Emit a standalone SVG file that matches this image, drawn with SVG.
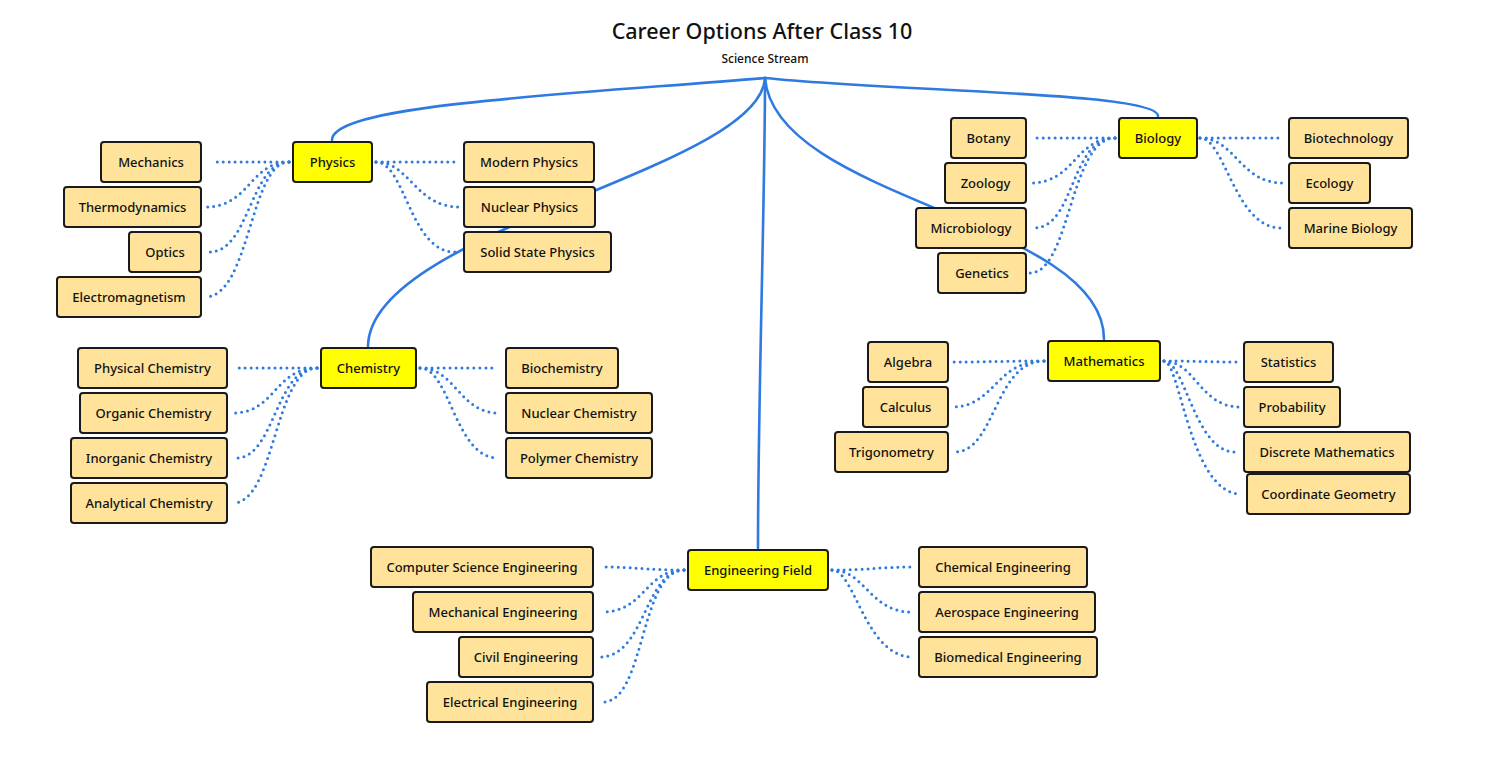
<svg xmlns="http://www.w3.org/2000/svg" width="1509" height="766" viewBox="0 0 1509 766">
<style>
.n rect{fill:#ffe39b;stroke:#1a1a1a;stroke-width:2}
.m rect{fill:#ffff00;stroke:#1a1a1a;stroke-width:2}
text{font-family:"Noto Sans",Lato,sans-serif;font-size:13px;font-weight:500;fill:#111;text-anchor:middle;dominant-baseline:central}
.main path{fill:none;stroke:#2f7ae0;stroke-width:2.6;stroke-linecap:round}
.dot path{fill:none;stroke:#2f7ae0;stroke-width:3;stroke-dasharray:0 6;stroke-linecap:round}
</style>
<rect width="1509" height="766" fill="#ffffff"/>
<text x="762" y="30" style="font-size:21.5px">Career Options After Class 10</text>
<text x="765" y="58" style="font-size:12px">Science Stream</text>
<g id="connectors">
<g class="main">
<path d="M765,78 C560,95 332,105 332,140"/>
<path d="M765,78 C900,92 1158,92 1158,116"/>
<path d="M765,78 C760,170 370,230 368,346"/>
<path d="M765,78 C765,200 758,400 758,548"/>
<path d="M765,78 C775,200 1104,220 1104,339"/>
</g>
<g class="dot">
<path d="M289,162 C255,162 250,162 213,162"/>
<path d="M289,162 C250,162 250,207 205,207"/>
<path d="M289,162 C250,162 250,252 209,252"/>
<path d="M289,162 C250,162 250,297 205,297"/>
<path d="M376,162 C410,162 420,162 456,162"/>
<path d="M376,162 C410,162 415,207 460,207"/>
<path d="M376,162 C405,162 410,252 455,252"/>
<path d="M317,368 C280,368 270,368 233,368"/>
<path d="M317,368 C275,368 275,413 233,413"/>
<path d="M317,368 C275,368 275,458 236,458"/>
<path d="M317,368 C275,368 275,503 233,503"/>
<path d="M420,368 C455,368 465,368 498,368"/>
<path d="M420,368 C455,368 460,413 498,413"/>
<path d="M420,368 C450,368 455,458 498,458"/>
<path d="M1115,138 C1080,138 1070,138 1036,138"/>
<path d="M1115,138 C1075,138 1075,183 1030,183"/>
<path d="M1115,138 C1070,138 1075,228 1034,228"/>
<path d="M1115,138 C1070,138 1070,273 1030,273"/>
<path d="M1200,138 C1240,138 1250,138 1280,138"/>
<path d="M1200,138 C1235,138 1240,183 1283,183"/>
<path d="M1200,138 C1225,138 1235,228 1281,228"/>
<path d="M1044,361 C1000,361 990,362 952,362"/>
<path d="M1044,361 C995,361 995,407 952,407"/>
<path d="M1044,361 C995,361 995,452 955,452"/>
<path d="M1164,361 C1200,361 1210,362 1237,362"/>
<path d="M1164,361 C1195,361 1200,407 1240,407"/>
<path d="M1164,361 C1185,361 1195,452 1235,452"/>
<path d="M1164,361 C1180,361 1190,494 1241,494"/>
<path d="M684,570 C640,570 640,567 602,567"/>
<path d="M684,570 C645,570 645,612 602,612"/>
<path d="M684,570 C645,570 645,657 600,657"/>
<path d="M684,570 C640,570 645,702 603,702"/>
<path d="M832,570 C870,570 880,567 911,567"/>
<path d="M832,570 C865,570 870,612 911,612"/>
<path d="M832,570 C855,570 865,657 913,657"/>
</g>
</g>
<g id="physics" class="m"><rect x="293" y="142" width="79" height="40" rx="3"/><text x="332.5" y="162">Physics</text></g>
<g id="mechanics" class="n"><rect x="101" y="142" width="100" height="40" rx="3"/><text x="151" y="162">Mechanics</text></g>
<g id="thermodynamics" class="n"><rect x="64" y="187" width="137" height="40" rx="3"/><text x="132.5" y="207">Thermodynamics</text></g>
<g id="optics" class="n"><rect x="129" y="232" width="72" height="40" rx="3"/><text x="165" y="252">Optics</text></g>
<g id="electromagnetism" class="n"><rect x="57" y="277" width="144" height="40" rx="3"/><text x="129" y="297">Electromagnetism</text></g>
<g id="modern-physics" class="n"><rect x="464" y="142" width="130" height="40" rx="3"/><text x="529" y="162">Modern Physics</text></g>
<g id="nuclear-physics" class="n"><rect x="464" y="187" width="131" height="40" rx="3"/><text x="529.5" y="207">Nuclear Physics</text></g>
<g id="solid-state-physics" class="n"><rect x="464" y="232" width="147" height="40" rx="3"/><text x="537.5" y="252">Solid State Physics</text></g>
<g id="chemistry" class="m"><rect x="321" y="348" width="95" height="40" rx="3"/><text x="368.5" y="368">Chemistry</text></g>
<g id="physical-chemistry" class="n"><rect x="78" y="348" width="149" height="40" rx="3"/><text x="152.5" y="368">Physical Chemistry</text></g>
<g id="organic-chemistry" class="n"><rect x="80" y="393" width="147" height="40" rx="3"/><text x="153.5" y="413">Organic Chemistry</text></g>
<g id="inorganic-chemistry" class="n"><rect x="71" y="438" width="156" height="40" rx="3"/><text x="149" y="458">Inorganic Chemistry</text></g>
<g id="analytical-chemistry" class="n"><rect x="71" y="483" width="156" height="40" rx="3"/><text x="149" y="503">Analytical Chemistry</text></g>
<g id="biochemistry" class="n"><rect x="506" y="348" width="112" height="40" rx="3"/><text x="562" y="368">Biochemistry</text></g>
<g id="nuclear-chemistry" class="n"><rect x="506" y="393" width="146" height="40" rx="3"/><text x="579" y="413">Nuclear Chemistry</text></g>
<g id="polymer-chemistry" class="n"><rect x="506" y="438" width="146" height="40" rx="3"/><text x="579" y="458">Polymer Chemistry</text></g>
<g id="biology" class="m"><rect x="1119" y="118" width="78" height="40" rx="3"/><text x="1158" y="138">Biology</text></g>
<g id="botany" class="n"><rect x="951" y="118" width="75" height="40" rx="3"/><text x="988.5" y="138">Botany</text></g>
<g id="zoology" class="n"><rect x="945" y="163" width="81" height="40" rx="3"/><text x="985.5" y="183">Zoology</text></g>
<g id="microbiology" class="n"><rect x="916" y="208" width="110" height="40" rx="3"/><text x="971" y="228">Microbiology</text></g>
<g id="genetics" class="n"><rect x="938" y="253" width="88" height="40" rx="3"/><text x="982" y="273">Genetics</text></g>
<g id="biotechnology" class="n"><rect x="1289" y="118" width="119" height="40" rx="3"/><text x="1348.5" y="138">Biotechnology</text></g>
<g id="ecology" class="n"><rect x="1289" y="163" width="81" height="40" rx="3"/><text x="1329.5" y="183">Ecology</text></g>
<g id="marine-biology" class="n"><rect x="1289" y="208" width="123" height="40" rx="3"/><text x="1350.5" y="228">Marine Biology</text></g>
<g id="mathematics" class="m"><rect x="1048" y="341" width="112" height="40" rx="3"/><text x="1104" y="361">Mathematics</text></g>
<g id="algebra" class="n"><rect x="868" y="342" width="80" height="40" rx="3"/><text x="908" y="362">Algebra</text></g>
<g id="calculus" class="n"><rect x="863" y="387" width="85" height="40" rx="3"/><text x="905.5" y="407">Calculus</text></g>
<g id="trigonometry" class="n"><rect x="835" y="432" width="113" height="40" rx="3"/><text x="891.5" y="452">Trigonometry</text></g>
<g id="statistics" class="n"><rect x="1244" y="342" width="89" height="40" rx="3"/><text x="1288.5" y="362">Statistics</text></g>
<g id="probability" class="n"><rect x="1244" y="387" width="96" height="40" rx="3"/><text x="1292" y="407">Probability</text></g>
<g id="discrete-mathematics" class="n"><rect x="1244" y="432" width="166" height="40" rx="3"/><text x="1327" y="452">Discrete Mathematics</text></g>
<g id="coordinate-geometry" class="n"><rect x="1247" y="474" width="163" height="40" rx="3"/><text x="1328.5" y="494">Coordinate Geometry</text></g>
<g id="engineering-field" class="m"><rect x="688" y="550" width="140" height="40" rx="3"/><text x="758" y="570">Engineering Field</text></g>
<g id="computer-science-engineering" class="n"><rect x="371" y="547" width="222" height="40" rx="3"/><text x="482" y="567">Computer Science Engineering</text></g>
<g id="mechanical-engineering" class="n"><rect x="413" y="592" width="180" height="40" rx="3"/><text x="503" y="612">Mechanical Engineering</text></g>
<g id="civil-engineering" class="n"><rect x="459" y="637" width="134" height="40" rx="3"/><text x="526" y="657">Civil Engineering</text></g>
<g id="electrical-engineering" class="n"><rect x="427" y="682" width="166" height="40" rx="3"/><text x="510" y="702">Electrical Engineering</text></g>
<g id="chemical-engineering" class="n"><rect x="919" y="547" width="168" height="40" rx="3"/><text x="1003" y="567">Chemical Engineering</text></g>
<g id="aerospace-engineering" class="n"><rect x="919" y="592" width="176" height="40" rx="3"/><text x="1007" y="612">Aerospace Engineering</text></g>
<g id="biomedical-engineering" class="n"><rect x="919" y="637" width="178" height="40" rx="3"/><text x="1008" y="657">Biomedical Engineering</text></g>
</svg>
